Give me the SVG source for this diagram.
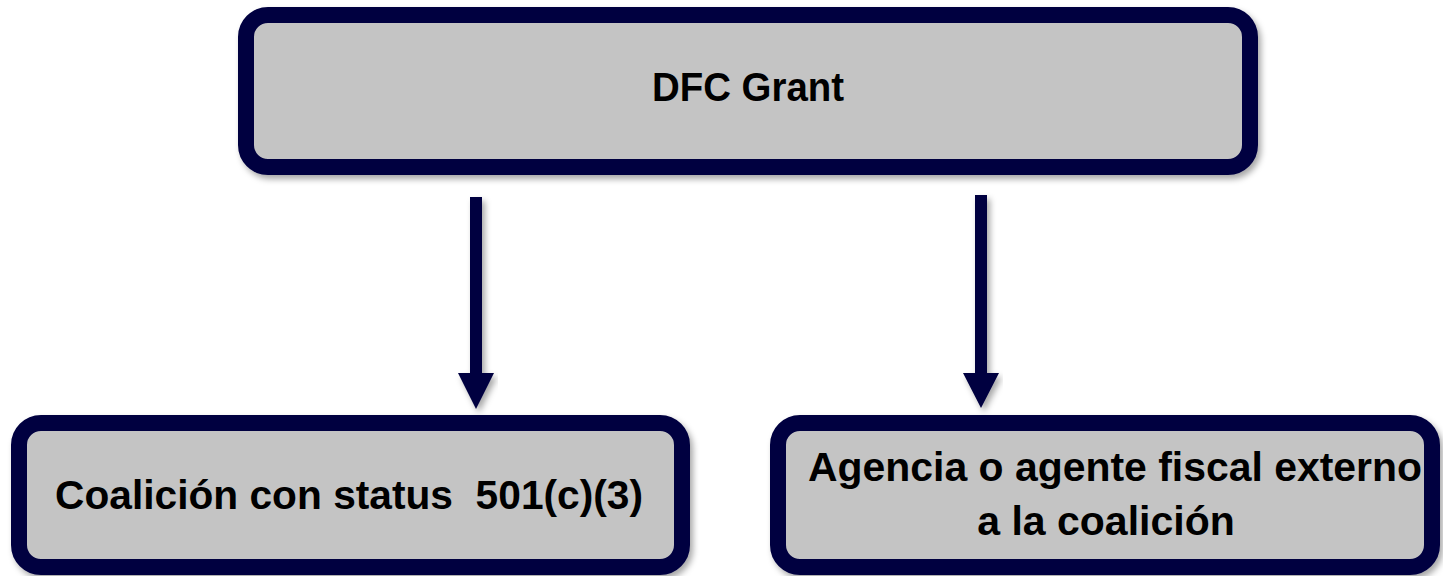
<svg xmlns="http://www.w3.org/2000/svg" width="1443" height="576" viewBox="0 0 1443 576">
<style>
.box{fill:#c4c4c4;stroke:#020240;stroke-width:16;filter:url(#sh)}
.t{font-family:"Liberation Sans",Arial,sans-serif;font-weight:bold;font-size:41px;fill:#000;text-anchor:middle;white-space:pre}
.arr{fill:#020240;filter:url(#sh)}
</style>
<defs>
<filter id="sh" x="-10%" y="-10%" width="120%" height="130%">
<feDropShadow dx="3" dy="4" stdDeviation="3" flood-color="#000" flood-opacity="0.35"/>
</filter>
</defs>
<g id="connectors">
<path class="arr" d="M470,197 H482 V373 H494 L476,409 L458,373 H470 Z"/>
<path class="arr" d="M975,195 H987 V373 H999 L981,408 L963,373 H975 Z"/>
</g>
<g id="node-dfc">
<rect class="box" x="246" y="15" width="1004" height="152" rx="22" ry="22"/>
<text class="t" x="748" y="101" textLength="192" lengthAdjust="spacingAndGlyphs">DFC Grant</text>
</g>
<g id="node-coalicion">
<rect class="box" x="19" y="423" width="663" height="144" rx="22" ry="22"/>
<text class="t" x="349" y="509" textLength="588" lengthAdjust="spacingAndGlyphs">Coalición con status  501(c)(3)</text>
</g>
<g id="node-agencia">
<rect class="box" x="778" y="423" width="654" height="144" rx="22" ry="22"/>
<text class="t" x="1115" y="481" textLength="614" lengthAdjust="spacingAndGlyphs">Agencia o agente fiscal externo</text>
<text class="t" x="1106" y="535">a la coalición</text>
</g>
</svg>
